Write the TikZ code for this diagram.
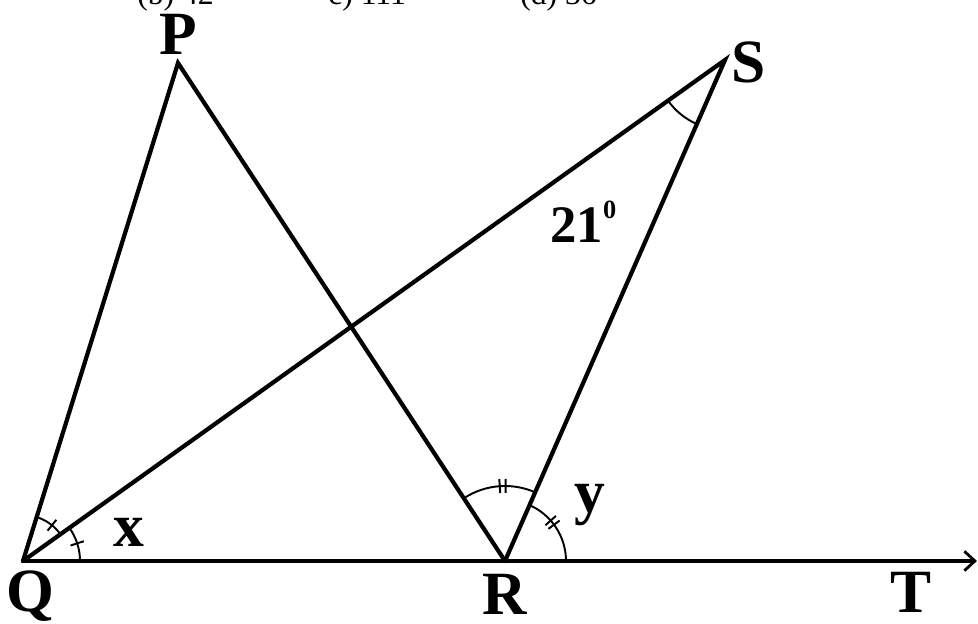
\documentclass[tikz,border=0pt]{standalone}
\usepackage{fontspec}
\setmainfont{Liberation Serif}
\usetikzlibrary{arrows.meta}
\tikzset{
  seg/.style={line width=2.4pt, line cap=round, line join=miter},
  ray/.style={seg, -{Straight Barb[length=6pt, width=11pt, line width=1.6pt]}},
  amark/.style={line width=1.1pt},
  vlabel/.style={font=\fontsize{35}{40}\selectfont\bfseries, anchor=base, inner sep=0pt},
  alabel/.style={vlabel, font=\fontsize{30}{36}\selectfont\bfseries},
  opt/.style={font=\fontsize{18}{20}\selectfont, anchor=base west, inner sep=0pt},
}

\begin{document}
\begin{tikzpicture}[x=0.02cm, y=0.02cm]

  \clip (0,0) rectangle (978,624);
  \fill[white] (0,0) rectangle (978,624);

  \coordinate (Q) at (23,63);
  \coordinate (R) at (505,63);
  \coordinate (T) at (977,63);
  \coordinate (P) at (178,561);
  \coordinate (S) at (725,564);

  \node[opt] (optb) at (137,619) {(b) 42};
  \node[opt] (optc) at (328,619) {c) 111};
  \node[opt] (optd) at (520,619) {(d) 36};

  \draw[seg] (Q) -- (P) -- (R);
  \draw[seg] (Q) -- (S) -- (R);
  \draw[ray] (Q) -- (T);

  \begin{scope}[amark, shift={(Q)}]
    \draw (35.5:46) arc[start angle=35.5, end angle=72.7, radius=46];
    \draw (51:39) -- (51:53);
    \draw (0:57) arc[start angle=0, end angle=35.5, radius=57];
    \draw (18:50) -- (18:64);
  \end{scope}

  \begin{scope}[amark, shift={(S)}]
    \draw (215.5:70) arc[start angle=215.5, end angle=246.3, radius=70];
  \end{scope}

  \begin{scope}[amark, shift={(R)}]
    \draw (66.3:75) arc[start angle=66.3, end angle=123.3, radius=75];
    \draw (89.5:68) -- (89.5:82);
    \draw (94:68) -- (94:82);
    \draw (0:61) arc[start angle=0, end angle=66.3, radius=61];
    \draw (36.5:54) -- (36.5:68);
    \draw (41.5:54) -- (41.5:68);
  \end{scope}

  \node[vlabel] (lP) at (178,569) {P};
  \node[vlabel] (lS) at (749,541) {S};
  \node[vlabel] (lQ) at (30,12) {Q};
  \node[vlabel] (lR) at (505,9) {R};
  \node[vlabel] (lT) at (911,11) {T};
  \node[vlabel] (lx) at (129,77) {x};
  \node[vlabel] (ly) at (590,111) {y};
  \node[alabel, anchor=base west] (lang) at (550,381)
    {21\raisebox{14pt}{\fontsize{15}{15}\selectfont\bfseries 0}};

\end{tikzpicture}
\end{document}
